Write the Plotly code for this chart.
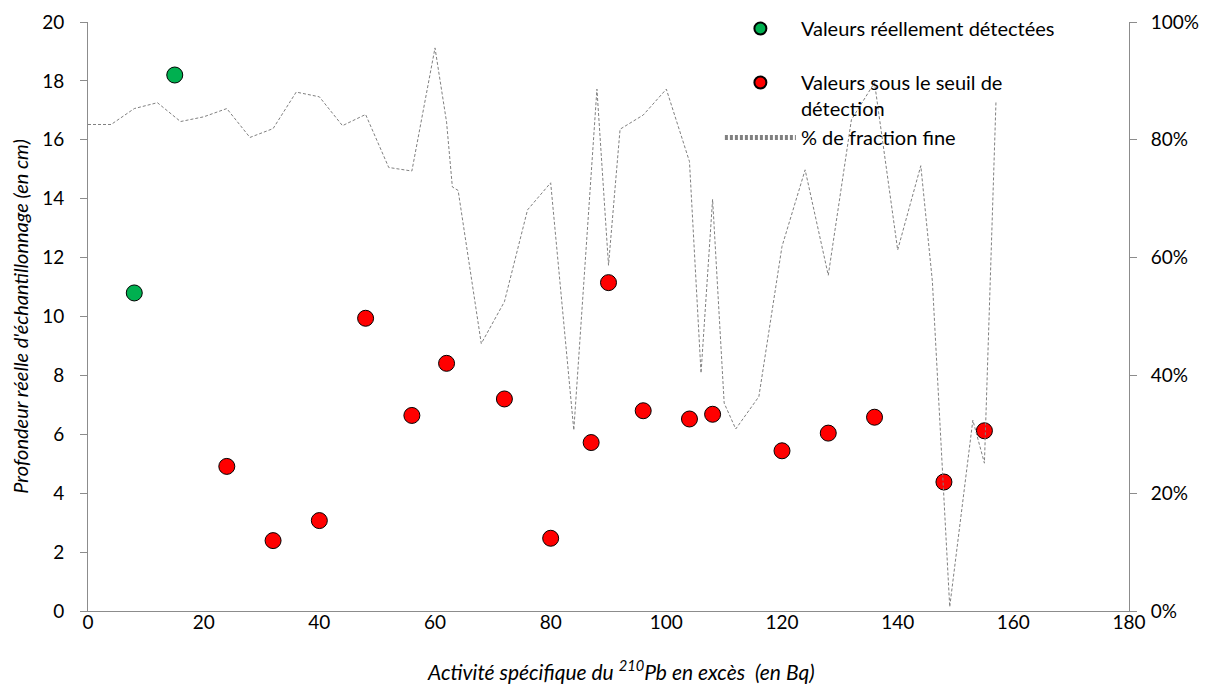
import plotly.graph_objects as go

# scatter: sampling depth vs excess 210Pb activity
detected_x = [8, 15]
detected_y = [10.8, 18.2]

below_x = [24, 32, 40, 48, 56, 62, 72, 80, 87, 90, 96, 104, 108, 120, 128, 136, 148, 155]
below_y = [4.91, 2.39, 3.07, 9.94, 6.64, 8.41, 7.2, 2.47, 5.72, 11.15, 6.8, 6.52, 6.68,
           5.44, 6.04, 6.58, 4.38, 6.12]

# fine fraction (%) on the secondary axis
fine_x = [0, 4, 8, 12, 16, 20, 24, 28, 32, 36, 40, 44, 48, 52, 56, 60, 62, 63, 64, 68,
          72, 76, 80, 84, 88, 90, 92, 96, 100, 104, 106, 108, 110, 112, 116, 120, 124,
          128, 132, 136, 140, 144, 146, 149, 153, 155, 157]
fine_pct = [82.6, 82.6, 85.3, 86.3, 83.1, 83.9, 85.3, 80.4, 81.9, 88.1, 87.3, 82.4, 84.3,
            75.3, 74.7, 95.6, 83.0, 72.0, 71.4, 45.4, 52.5, 68.1, 72.7, 30.7, 88.6, 58.7,
            81.8, 84.2, 88.6, 76.3, 40.4, 69.9, 35.3, 30.9, 36.4, 61.9, 74.9, 57.0, 83.4,
            89.7, 61.3, 75.6, 56.0, 0.7, 32.4, 25.1, 86.5]

FONT = "Lato, 'Open Sans', sans-serif"
AXIS_GREY = "#8c8c8c"

fig = go.Figure()

fig.add_trace(go.Scatter(
    x=detected_x, y=detected_y, mode="markers",
    name="Valeurs réellement détectées",
    legendgroup="g1",
    marker=dict(size=16, color="#00b050", line=dict(color="black", width=1)),
))
fig.add_trace(go.Scatter(
    x=below_x, y=below_y, mode="markers",
    name="Valeurs sous le seuil de<br>détection",
    legendgroup="g2",
    marker=dict(size=16, color="#ff0000", line=dict(color="black", width=1)),
))
fig.add_trace(go.Scatter(
    x=fine_x, y=[v / 100 for v in fine_pct], mode="lines",
    name="% de fraction fine",
    legendgroup="g2",
    yaxis="y2",
    line=dict(color="#808080", width=1, dash="3px,2px"),
))

# page body has an 8px margin, so the figure is 8px smaller and margins shifted
fig.update_layout(
    width=1199,
    height=679,
    margin=dict(l=80, r=78, t=14, b=76, autoexpand=False),
    paper_bgcolor="white",
    plot_bgcolor="white",
    font=dict(family=FONT, size=19, color="black"),
    xaxis=dict(
        range=[0, 180], dtick=20, showgrid=False, zeroline=False,
        showline=True, linecolor=AXIS_GREY, linewidth=1, ticks="",
        ticklabelstandoff=-6, automargin=False,
    ),
    yaxis=dict(
        range=[0, 20], dtick=2, showgrid=False, zeroline=False,
        showline=True, linecolor=AXIS_GREY, linewidth=1,
        ticks="outside", ticklen=7, tickcolor=AXIS_GREY,
        ticklabelstandoff=12, automargin=False,
        title=dict(
            text="Profondeur réelle d'échantillonnage (en cm)",
            font=dict(size=20, style="italic"), standoff=10,
        ),
    ),
    yaxis2=dict(
        range=[0, 1], dtick=0.2, tickformat=".0%", overlaying="y", side="right",
        showgrid=False, zeroline=False, showline=True, linecolor=AXIS_GREY,
        linewidth=1, ticks="outside", ticklen=7, tickcolor=AXIS_GREY,
        ticklabelstandoff=10, automargin=False,
    ),
    legend=dict(
        x=0.607, y=1.022, xanchor="left", yanchor="top",
        bgcolor="rgba(0,0,0,0)", font=dict(size=20),
        valign="top", tracegroupgap=25, itemsizing="constant", itemwidth=71,
    ),
    annotations=[dict(
        text="Activité spécifique du <sup>210</sup>Pb en excès  (en Bq)",
        xref="paper", yref="paper", x=0.512, y=-0.127,
        xanchor="center", yanchor="bottom", showarrow=False,
        font=dict(size=21, style="italic"),
    )],
)

fig.write_html("out.html")
